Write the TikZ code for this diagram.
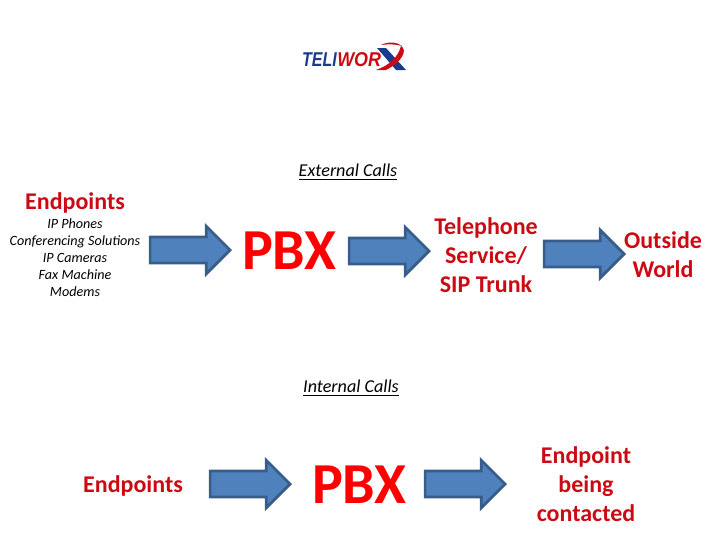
\documentclass[tikz,border=0pt]{standalone}
\usepackage{fontspec}
\setmainfont{Carlito}
\newfontfamily\logofont{Liberation Sans}
\usetikzlibrary{shapes.arrows}
\definecolor{redtxt}{HTML}{CC0A14}
\definecolor{pbxred}{HTML}{FF0000}
\definecolor{blfill}{HTML}{4F81BD}
\definecolor{bldraw}{HTML}{385D8A}
\definecolor{logoblue}{HTML}{1C3A8C}
\newcommand{\arrowbody}{\rule{0pt}{17.5pt}}
\tikzset{
  x=0.75pt,y=-0.75pt,
  blockarrow/.style={single arrow,draw=bldraw,fill=blfill,line width=2pt,inner sep=0pt,
    minimum height=60pt,single arrow head extend=8.1pt,single arrow tip angle=90,anchor=tip},
  head/.style={text=redtxt,font=\fontsize{18pt}{21.7pt}\selectfont\bfseries,align=center,inner sep=0pt},
  big/.style={text=pbxred,font=\fontsize{43.5pt}{48pt}\selectfont\bfseries,inner sep=0pt},
  caption/.style={font=\fontsize{13.6pt}{16pt}\selectfont\itshape,inner sep=0pt},
  items/.style={font=\fontsize{10.6pt}{12.75pt}\selectfont\itshape,align=center,inner sep=0pt},
  logotxt/.style={font=\logofont\fontsize{12pt}{13pt}\selectfont\bfseries\itshape,inner sep=0pt,yscale=1.25},
}
\begin{document}
\begin{tikzpicture}
\useasboundingbox (0,0) rectangle (720,540);
% logo
\node[logotxt,text=logoblue,anchor=east] (teli) at (337,60) {TELI};
\node[logotxt,text=redtxt,anchor=west,xscale=1.12] (wor) at (337,60) {WOR};
\fill[logoblue] (377,48) -- (386,48) -- (406,70) -- (396,70) -- cycle;
\fill[redtxt] (376,70) .. controls (390,65) and (398,57) .. (401,46) .. controls (408,50) and (402,62) .. (386,70) -- cycle;
\fill[redtxt] (381,45) .. controls (389,41) and (397,42) .. (402,46) .. controls (395,44) and (388,44) .. (381,45) -- cycle;
% external calls
\node[caption] (ext) at (348,172) {\underline{External Calls}};
\node[head] (ep) at (75,203) {Endpoints};
\node[items] (list) at (75,258) {IP Phones\\Conferencing Solutions\\IP Cameras\\Fax Machine\\Modems};
\node[blockarrow] (a1) at (232,250) {\arrowbody};
\node[big] (pbx1) at (289,251) {PBX};
\node[blockarrow] (a2) at (431,251) {\arrowbody};
\node[head] (tel) at (486,255) {Telephone\\Service/\\SIP Trunk};
\node[blockarrow] (a3) at (626,254) {\arrowbody};
\node[head] (out) at (663,255) {Outside\\World};
% internal calls
\node[caption] (int) at (351,388) {\underline{Internal Calls}};
\node[head] (ep2) at (133,486) {Endpoints};
\node[blockarrow] (b1) at (292,484) {\arrowbody};
\node[big] (pbx2) at (359,485) {PBX};
\node[blockarrow] (b2) at (507,484) {\arrowbody};
\node[head] (dest) at (586,484) {Endpoint\\being\\contacted};
\end{tikzpicture}
\end{document}
